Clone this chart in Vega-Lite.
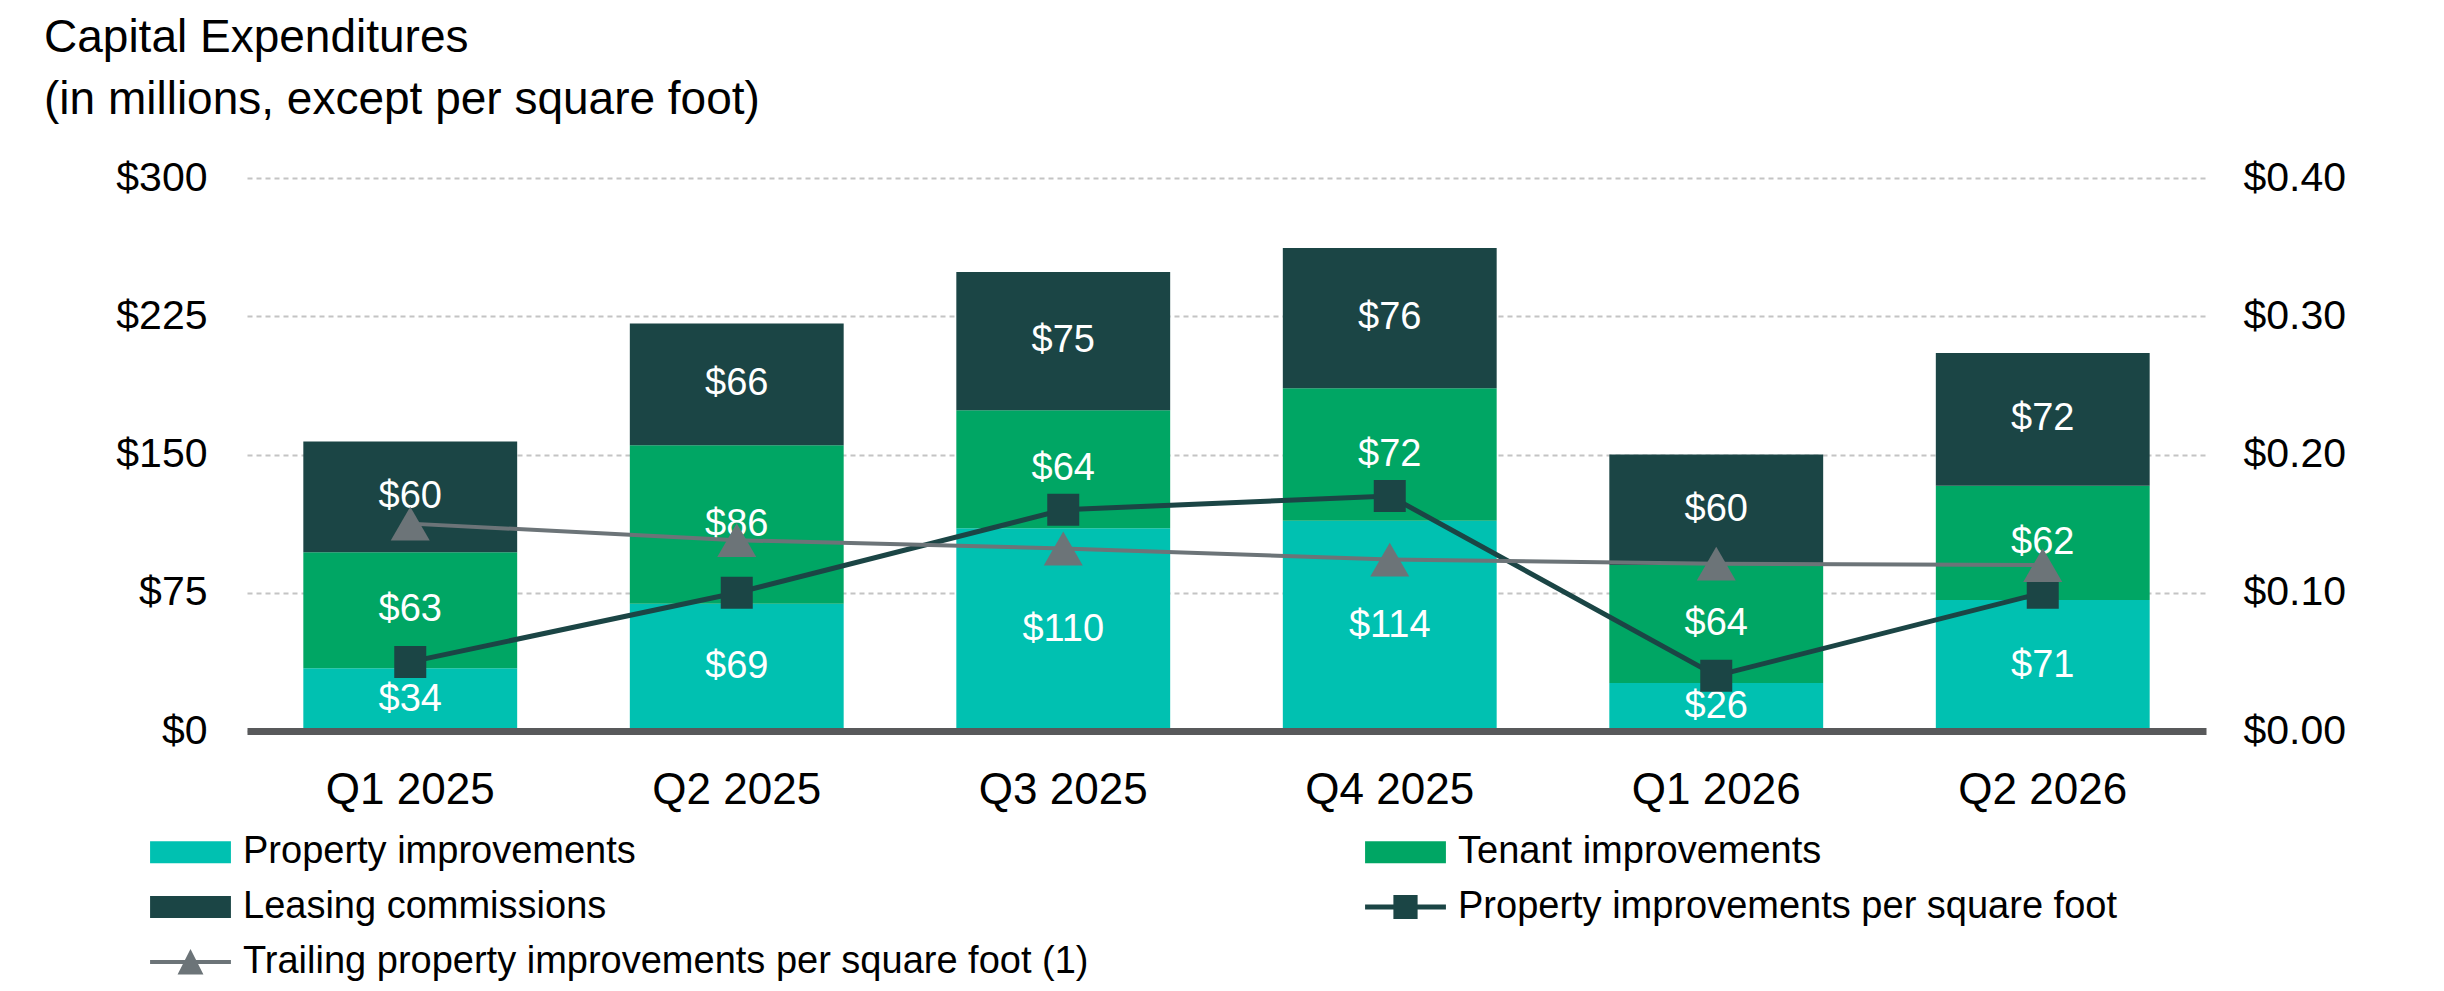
{
  "$schema": "https://vega.github.io/schema/vega-lite/v6.json",
  "autosize": {"type": "none"},
  "width": 1959,
  "height": 553,
  "padding": {"left": 247, "top": 178, "right": 238, "bottom": 260},
  "background": "white",
  "config": {
    "font": "Liberation Sans",
    "view": {"stroke": null},
    "axis": {"labelFont": "Liberation Sans", "labelColor": "#000000", "ticks": false, "tickSize": 0, "title": null}
  },
  "title": {
    "text": ["Capital Expenditures", "(in millions, except per square foot)"],
    "anchor": "start",
    "frame": "group",
    "dx": -203,
    "offset": -3,
    "baseline": "alphabetic",
    "fontSize": 46,
    "fontWeight": "normal",
    "color": "#000000",
    "lineHeight": 62,
    "font": "Liberation Sans"
  },
  "datasets": {
    "capex": [
      {"quarter": "Q1 2025", "series": "Property improvements", "rank": 1, "value": 34},
      {"quarter": "Q1 2025", "series": "Tenant improvements", "rank": 2, "value": 63},
      {"quarter": "Q1 2025", "series": "Leasing commissions", "rank": 3, "value": 60},
      {"quarter": "Q2 2025", "series": "Property improvements", "rank": 1, "value": 69},
      {"quarter": "Q2 2025", "series": "Tenant improvements", "rank": 2, "value": 86},
      {"quarter": "Q2 2025", "series": "Leasing commissions", "rank": 3, "value": 66},
      {"quarter": "Q3 2025", "series": "Property improvements", "rank": 1, "value": 110},
      {"quarter": "Q3 2025", "series": "Tenant improvements", "rank": 2, "value": 64},
      {"quarter": "Q3 2025", "series": "Leasing commissions", "rank": 3, "value": 75},
      {"quarter": "Q4 2025", "series": "Property improvements", "rank": 1, "value": 114},
      {"quarter": "Q4 2025", "series": "Tenant improvements", "rank": 2, "value": 72},
      {"quarter": "Q4 2025", "series": "Leasing commissions", "rank": 3, "value": 76},
      {"quarter": "Q1 2026", "series": "Property improvements", "rank": 1, "value": 26},
      {"quarter": "Q1 2026", "series": "Tenant improvements", "rank": 2, "value": 64},
      {"quarter": "Q1 2026", "series": "Leasing commissions", "rank": 3, "value": 60},
      {"quarter": "Q2 2026", "series": "Property improvements", "rank": 1, "value": 71},
      {"quarter": "Q2 2026", "series": "Tenant improvements", "rank": 2, "value": 62},
      {"quarter": "Q2 2026", "series": "Leasing commissions", "rank": 3, "value": 72}
    ],
    "psf": [
      {"quarter": "Q1 2025", "value": 0.05},
      {"quarter": "Q2 2025", "value": 0.10},
      {"quarter": "Q3 2025", "value": 0.16},
      {"quarter": "Q4 2025", "value": 0.17},
      {"quarter": "Q1 2026", "value": 0.04},
      {"quarter": "Q2 2026", "value": 0.10}
    ],
    "trailing": [
      {"quarter": "Q1 2025", "value": 0.150},
      {"quarter": "Q2 2025", "value": 0.138},
      {"quarter": "Q3 2025", "value": 0.132},
      {"quarter": "Q4 2025", "value": 0.124},
      {"quarter": "Q1 2026", "value": 0.121},
      {"quarter": "Q2 2026", "value": 0.120}
    ]
  },
  "encoding": {
    "x": {
      "field": "quarter",
      "type": "nominal",
      "sort": null,
      "scale": {"paddingInner": 0.345, "paddingOuter": 0.1725},
      "axis": {"title": null, "labelAngle": 0, "labelFontSize": 44, "labelPadding": 37, "domainColor": "#58595B", "domainWidth": 7, "ticks": false, "grid": false, "zindex": 1, "labelColor": "#000000"}
    }
  },
  "layer": [
    {
      "data": {"name": "capex"},
      "encoding": {
        "y": {
          "field": "value", "type": "quantitative", "stack": "zero",
          "scale": {"domain": [0, 300]},
          "axis": {"title": null, "values": [0, 75, 150, 225, 300], "format": "$,.0f", "labelFontSize": 41, "labelPadding": 40, "domain": false, "ticks": false, "grid": true, "gridColor": "#C4C4C4", "gridDash": [5, 4], "gridWidth": 2, "labelColor": "#000000"}
        },
        "order": {"field": "rank", "type": "quantitative"}
      },
      "layer": [
        {
          "mark": {"type": "bar"},
          "encoding": {
            "color": {
              "field": "series",
              "type": "nominal",
              "scale": {
                "domain": ["Property improvements", "Tenant improvements", "Leasing commissions", "Property improvements per square foot", "Trailing property improvements per square foot (1)"],
                "range": ["#00C1B1", "#00A664", "#1B4545", "#1B4545", "#6C7478"]
              },
              "legend": {
                "orient": "none",
                "direction": "horizontal",
                "legendX": -84,
                "legendY": 646.5,
                "columns": 2,
                "columnPadding": 276,
                "rowPadding": 8,
                "title": null,
                "symbolSize": 3025,
                "symbolStrokeWidth": 0,
                "symbolOpacity": 1,
                "labelOffset": 25,
                "labelFontSize": 38,
                "labelLimit": 2000,
                "labelColor": "#000000",
                "labelFont": "Liberation Sans",
                "padding": 0,
                "encoding": {
                  "symbols": {
                    "shape": {"value": {"expr": "datum.value === 'Property improvements per square foot' ? 'M-1.47,-0.09H1.47V0.09H-1.47Z M-0.44,-0.44H0.44V0.44H-0.44Z' : datum.value === 'Trailing property improvements per square foot (1)' ? 'M-1.47,-0.075H1.47V0.075H-1.47Z M0,-0.47L0.47,0.45L-0.47,0.45Z' : 'M-1.47,-0.4H1.47V0.4H-1.47Z'"}}
                  }
                }
              }
            }
          }
        },
        {
          "mark": {"type": "text", "color": "#FFFFFF", "fontSize": 38, "baseline": "middle", "font": "Liberation Sans"},
          "encoding": {
            "y": {
              "field": "value", "type": "quantitative", "stack": "zero", "bandPosition": 0.5,
              "scale": {"domain": [0, 300]},
              "axis": {"title": null, "values": [0, 75, 150, 225, 300], "format": "$,.0f", "labelFontSize": 41, "labelPadding": 40, "domain": false, "ticks": false, "grid": true, "gridColor": "#C4C4C4", "gridDash": [5, 4], "gridWidth": 2, "labelColor": "#000000"}
            },
            "detail": {"field": "series"},
            "text": {"field": "value", "type": "quantitative", "format": "$,.0f"}
          }
        }
      ]
    },
    {
      "encoding": {
        "y": {
          "field": "value", "type": "quantitative",
          "scale": {"domain": [0, 0.4]},
          "axis": {"orient": "right", "title": null, "values": [0, 0.1, 0.2, 0.3, 0.4], "format": "$.2f", "labelFontSize": 41, "labelPadding": 37, "domain": false, "ticks": false, "grid": false, "labelColor": "#000000"}
        }
      },
      "layer": [
        {"data": {"name": "psf"}, "mark": {"type": "line", "color": "#1B4545", "strokeWidth": 5}, "encoding": {}},
        {"data": {"name": "psf"}, "mark": {"type": "point", "shape": "square", "size": 1024, "filled": true, "color": "#1B4545", "opacity": 1}, "encoding": {}},
        {"data": {"name": "trailing"}, "mark": {"type": "line", "color": "#6C7478", "strokeWidth": 4}, "encoding": {}},
        {"data": {"name": "trailing"}, "mark": {"type": "point", "shape": "triangle-up", "size": 1521, "filled": true, "color": "#6C7478", "opacity": 1}, "encoding": {}}
      ]
    }
  ],
  "resolve": {"scale": {"y": "independent"}}
}
